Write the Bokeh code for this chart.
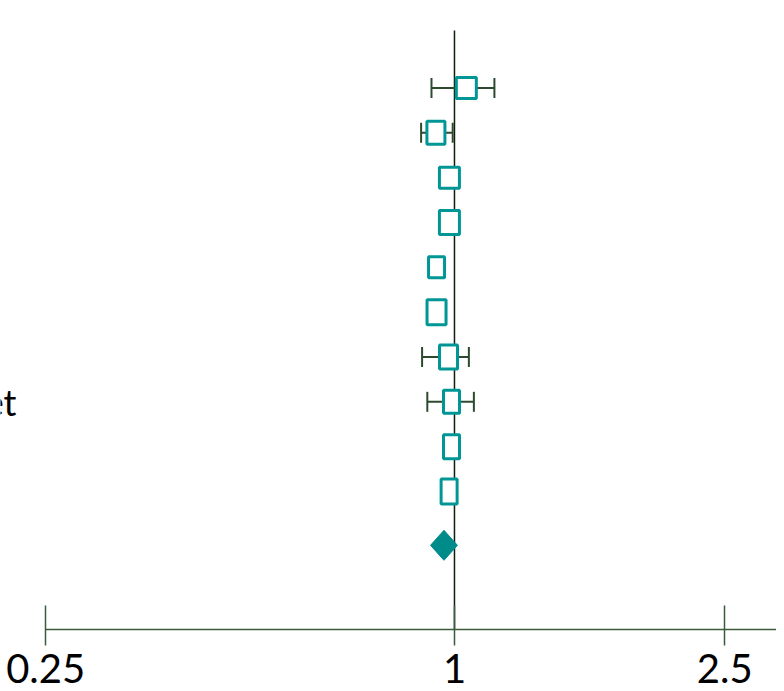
import math
from bokeh.plotting import figure
from bokeh.models import Range1d, FixedTicker
from bokeh.core.properties import value
from bokeh.embed import file_html
from bokeh.resources import INLINE

# ---------------- data ----------------
rows = [1, 2, 3, 4, 5, 6, 7, 8, 9, 10]
est = [1.041, 0.939, 0.983, 0.983, 0.941, 0.941, 0.980, 0.990, 0.990, 0.982]
ci_lo = [0.925, 0.893, 0.970, 0.975, 0.925, 0.928, 0.896, 0.912, 0.975, 0.968]
ci_hi = [1.145, 0.994, 0.997, 0.991, 0.958, 0.955, 1.050, 1.068, 1.005, 0.997]

pooled_est = 0.965
pooled_lo = 0.922
pooled_hi = 1.010

null_value = 1.0
tick_values = [0.25, 1, 2.5]
tick_labels = ["0.25", "1", "2.5"]

label_rows = [8]
label_texts = ["et"]

# ---------------- layout / style ----------------
BOX_W = [20, 18, 20, 20, 16, 19, 18, 16, 16, 16]
BOX_H = [21, 23, 21, 24, 21, 25, 24, 23, 24, 25]
POOLED_ROW = 11.2
DIAMOND_HALF = 0.335
REF_TOP = -0.283
AXIS_ROW = 13.079
Y_BOTTOM = 14.283
Y_TOP = -0.952
X_START = 0.21451
X_END = 2.9801
LABEL_X = 0.22643

TEAL = "#009696"
DIAMOND = "#008B8B"
WHISK = "#2E4A2E"
REF = "#0F1F0F"
AXIS = "#3A5C3A"

p = figure(width=776, height=683, x_axis_type="log",
           x_range=Range1d(X_START, X_END), y_range=Range1d(Y_BOTTOM, Y_TOP),
           output_backend="svg", toolbar_location=None,
           y_axis_location=None, min_border=0)
p.xgrid.visible = False
p.ygrid.visible = False
p.outline_line_color = None
p.background_fill_color = "white"
p.border_fill_color = "white"

ax = p.xaxis[0]
ax.fixed_location = AXIS_ROW
ax.ticker = FixedTicker(ticks=tick_values)
ax.major_label_overrides = {t: l for t, l in zip(tick_values, tick_labels)}
ax.bounds = (tick_values[0], 1000)
ax.axis_line_color = AXIS
ax.axis_line_width = 1.5
ax.major_tick_line_color = AXIS
ax.major_tick_line_width = 1.5
ax.major_tick_in = 24
ax.major_tick_out = 16
ax.minor_tick_line_color = None
ax.major_label_text_font = "Lato"
ax.major_label_text_font_size = "40px"
ax.major_label_text_color = "black"
ax.major_label_standoff = 8

# reference line
p.segment(x0=[null_value], y0=[REF_TOP], x1=[null_value], y1=[AXIS_ROW],
          line_color=REF, line_width=1.5)

# whiskers and caps
p.segment(x0=ci_lo, y0=rows, x1=ci_hi, y1=rows, line_color=WHISK, line_width=2)
p.scatter(x=ci_lo + ci_hi, y=rows + rows, marker="dash", angle=math.pi / 2,
          size=20, line_color=WHISK, line_width=2)

# study boxes
p.rect(x=est, y=rows, width=BOX_W, height=BOX_H, width_units="screen",
       height_units="screen", fill_color="white", line_color=TEAL, line_width=3)

# pooled diamond
p.patch(x=[pooled_lo, pooled_est, pooled_hi, pooled_est],
        y=[POOLED_ROW, POOLED_ROW - DIAMOND_HALF, POOLED_ROW, POOLED_ROW + DIAMOND_HALF],
        fill_color=DIAMOND, line_color=DIAMOND, line_width=1)

# row label (cut off at the left edge, as in the source)
p.text(x=[LABEL_X] * len(label_rows), y=label_rows, text=label_texts,
       text_align="right", text_baseline="middle", text_font=value("Lato"),
       text_font_size="36px", text_color="black")

open("out.html", "w").write(file_html(p, INLINE))
